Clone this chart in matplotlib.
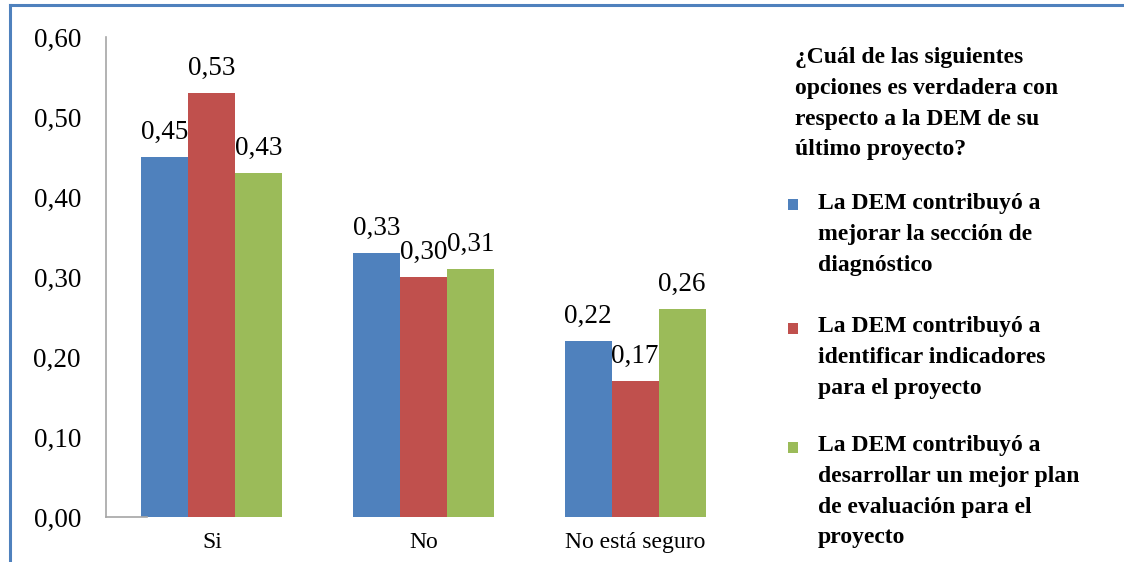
import matplotlib
matplotlib.use("Agg")
import matplotlib.pyplot as plt
import numpy as np
from matplotlib.lines import Line2D
from matplotlib.patches import Rectangle

plt.rcParams['font.family'] = ['Liberation Serif', 'DejaVu Serif']

categories = ["Si", "No", "No está seguro"]
series_names = [
    "La DEM contribuyó a\nmejorar la sección de\ndiagnóstico",
    "La DEM contribuyó a\nidentificar indicadores\npara el proyecto",
    "La DEM contribuyó a\ndesarrollar un mejor plan\nde evaluación para el\nproyecto",
]
diagnostico = [0.45, 0.33, 0.22]
indicadores = [0.53, 0.30, 0.17]
evaluacion = [0.43, 0.31, 0.26]
yticks = [0.0, 0.1, 0.2, 0.3, 0.4, 0.5, 0.6]
legend_title = "¿Cuál de las siguientes\nopciones es verdadera con\nrespecto a la DEM de su\núltimo proyecto?"

colors = ["#4F81BD", "#C0504D", "#9BBB59"]

W, H = 1124, 562
fig = plt.figure(figsize=(W / 100, H / 100), dpi=100)
ax = fig.add_axes([106 / W, 1 - 517 / H, (741 - 106) / W, (517 - 37) / H])

x = np.arange(len(categories))
w = 0.222
bars = []
for i, (vals, c) in enumerate(zip([diagnostico, indicadores, evaluacion], colors)):
    b = ax.bar(x + (i - 1) * w, vals, width=w, color=c, zorder=2)
    bars.append(b)
    for xi, v in zip(x + (i - 1) * w, vals):
        ax.annotate(f"{v:.2f}".replace(".", ","), (xi, v), xytext=(0, 13),
                    textcoords="offset points", ha="center", va="baseline",
                    fontsize=19.5)

ax.set_xlim(-0.5, 2.5)
ax.set_ylim(0, 0.6)
ax.set_yticks(yticks)
ax.set_yticklabels([f"{t:.2f}".replace(".", ",") for t in yticks], fontsize=19.5)
ax.set_xticks(x)
ax.set_xticklabels(categories, fontsize=17)
ax.tick_params(axis="y", length=0, pad=18)
ax.tick_params(axis="x", length=0, pad=11)
for s in ["top", "right"]:
    ax.spines[s].set_visible(False)
ax.spines["left"].set_color("#A6A6A6")
ax.spines["left"].set_linewidth(1.2)
ax.spines["bottom"].set_color("#A6A6A6")
ax.spines["bottom"].set_linewidth(1.2)
ax.spines["bottom"].set_bounds(-0.5, -0.5 + 41 / 211.7)

# legend: title and one entry per series, with small colour squares
bold = dict(family="Liberation Serif", weight="bold", fontsize=17, linespacing=1.61,
            va="top", ha="left")
fig.text(795 / W, 1 - 47 / H, legend_title, **bold)
entry_tops = [193, 316, 435]
for b, name, top in zip(bars, series_names, entry_tops):
    fig.text(818 / W, 1 - top / H, name, **bold)
    fig.add_artist(Rectangle((788 / W, 1 - (top + 17.5) / H), 10 / W, 11 / H,
                             facecolor=b[0].get_facecolor(), edgecolor="none",
                             transform=fig.transFigure))

# blue frame along the top and left edges
fig.add_artist(Line2D([10 / W, 10 / W], [0, 1 - 5 / H], color="#4F81BD", lw=2.2,
                      transform=fig.transFigure))
fig.add_artist(Line2D([10 / W, 1], [1 - 5 / H, 1 - 5 / H], color="#4F81BD", lw=2.2,
                      transform=fig.transFigure))

fig.savefig("out.png", dpi=100)
